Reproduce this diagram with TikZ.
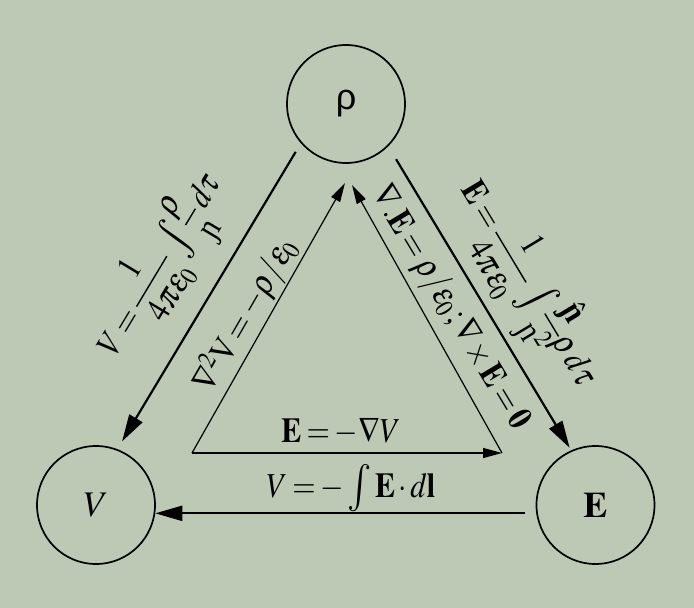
\documentclass[tikz,border=0pt]{standalone}
\usepackage{amsmath}
\usepackage{graphicx}
\usepackage{mathptmx}
\usepackage{fontspec}
\setmainfont{Liberation Serif}
\newfontfamily\sansgreek{Liberation Sans}
\usetikzlibrary{arrows.meta}
\definecolor{bg}{RGB}{189,201,180}
\newcommand{\scrr}{\textup{ɲ}}
\newcommand{\bscrr}{\textup{\bfseries ɲ}}
\newcommand{\bint}{\mathop{\vcenter{\hbox{\scalebox{1.35}{$\textstyle\int$}}}}\nolimits}
\newcommand{\sq}[1]{\scalebox{0.86}[1]{#1}}
\thickmuskip=3mu\relax
\medmuskip=2mu\relax
\thinmuskip=2mu\relax
\begin{document}
\begin{tikzpicture}[x=1pt,y=-1pt,
  circ/.style={circle,draw,line width=1.7pt,minimum size=118pt,inner sep=0pt,font=\fontsize{36}{40}\selectfont},
  outer/.style={line width=2.2pt,-{Triangle[length=27pt,width=15pt]}},
  inner/.style={line width=1.2pt,-{Triangle[length=19pt,width=10pt]}},
  lbl/.style={inner sep=0pt,font=\fontsize{35}{40}\selectfont}]
\fill[bg] (0,0) rectangle (694,608);
\useasboundingbox (0,0) rectangle (694,608);
\node[circ] (rho) at (346,104) {\sansgreek ρ};
\node[circ] (V) at (96,505) {$V$};
\node[circ] (E) at (595.5,505) {$\mathbf{E}$};
\draw[outer,shorten <=10pt,shorten >=9pt] (rho.221) -- (V.69);
\draw[outer,shorten <=15pt,shorten >=3pt] (rho.315) -- (E.114);
\draw[outer,shorten <=11pt] (E.188) -- (V.352);
\coordinate (tl) at (345,183);
\coordinate (tr) at (352,185);
\coordinate (bl) at (192,453);
\coordinate (br) at (502,453);
\draw[inner] (bl) -- (tl);
\draw[inner] (br) -- (tr);
\draw[inner] (bl) -- (br);
\node[lbl,rotate=59] (l1) at (162,266) {\sq{$V=\dfrac{1}{4\pi\varepsilon_0}\,\bint\dfrac{\rho}{\scrr}\,d\tau$}};
\node[lbl,rotate=60] (l2) at (245,315) {\sq{$\nabla^2\mathrm{V}=-\rho/\varepsilon_0$}};
\node[lbl,rotate=-59] (l3) at (450,308) {\sq{$\nabla .\mathbf{E}=\rho/\varepsilon_0\,;\nabla\times\mathbf{E}=\mathbf{0}$}};
\node[lbl,rotate=-59] (l4) at (527,285) {\sq{$\mathbf{E}=\dfrac{1}{4\pi\varepsilon_0}\,\bint\dfrac{\hat{\bscrr}}{\scrr^2}\rho\,d\tau$}};
\node[lbl,anchor=base] (l5) at (341,442) {\sq{$\mathbf{E}=-\nabla V$}};
\node[lbl,anchor=base] (l6) at (351,497) {\sq{$V=-\bint\mathbf{E}\cdot d\mathbf{l}$}};
\end{tikzpicture}
\end{document}
